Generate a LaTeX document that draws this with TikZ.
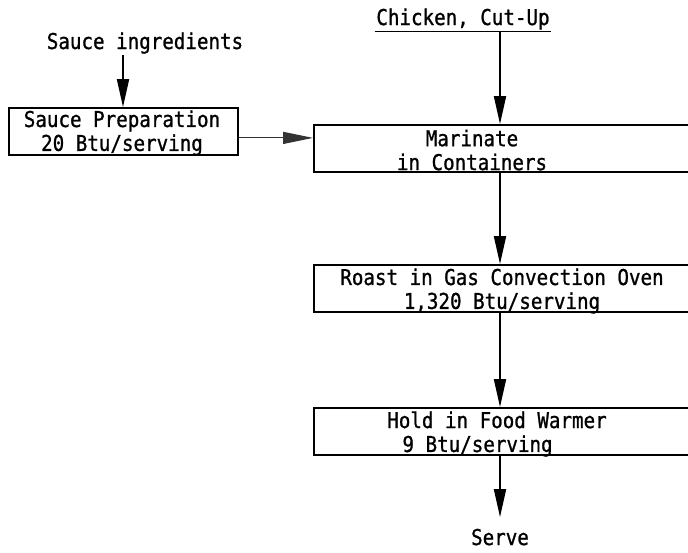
\documentclass[tikz,border=0pt]{standalone}
\usepackage{fontspec}
\setmonofont{DejaVu Sans Mono}[FakeStretch=0.88, FakeBold=1]
\usetikzlibrary{arrows.meta,positioning}

\begin{document}
\begin{tikzpicture}[x=0.025cm, y=-0.025cm]
	\tikzstyle{stage}=[rectangle, draw=black, line width=1.3pt, minimum height=1.175cm, inner sep=0pt]
	\tikzstyle{txt}=[font=\ttfamily\fontsize{15.5}{17}\selectfont, align=center, inner sep=1pt]
	\tikzstyle{flow}=[line width=1.3pt, -{Triangle[length=0.7cm, width=0.3cm]}]
	\tikzstyle{feed}=[line width=0.8pt, black!80, -{Triangle[length=0.75cm, width=0.3cm]}]
	\useasboundingbox (0,0) rectangle (688,552);
	% Sauce
	\node at (145,49) [txt, anchor=base] (ingredients) {Sauce ingredients};
	\coordinate (side) at (123,0);
	\node at (123.5,131.5) [stage, minimum width=5.725cm] (sauce) {};
	\node at (122,133) [txt] (sauce_text) {Sauce Preparation\\20 Btu/serving};
	% Main line
	\coordinate (main) at (500,0);
	\node at (463,25) [txt, anchor=base] (chicken) {Chicken, Cut-Up};
	\draw [line width=1pt] (chicken.south west) -- (chicken.south east);
	\node at (520,148.5) [stage, minimum width=10.3cm] (marinate) {};
	\node at (472,150) [txt] (marinate_text) {Marinate\\in Containers};
	\node at (520,288.5) [stage, minimum width=10.3cm] (roast) {};
	\node at (502,291) [txt] (roast_text) {Roast in Gas Convection Oven\\1,320 Btu/serving};
	\node at (520,431.5) [stage, minimum width=10.3cm] (hold) {};
	\node at (497,434) [txt, align=left] (hold_text) {Hold in Food Warmer\\\hspace*{0.38cm}9 Btu/serving};
	\node at (500,545) [txt, anchor=base] (serve) {Serve};
	%---------------------%
	% Inputs
	\draw [flow] (side |- ingredients.south) -- (side |- sauce.north);
	\draw [feed] ([yshift=-0.16cm]sauce.east) -- ([yshift=-0.16cm]sauce.east -| marinate.west);
	\draw [flow] (main |- chicken.south) -- (main |- marinate.north);
	% Stages
	\draw [flow] (main |- marinate.south) -- (main |- roast.north);
	\draw [flow] (main |- roast.south) -- (main |- hold.north);
	\draw [flow, shorten >=0.25cm] (main |- hold.south) -- (serve.north);
\end{tikzpicture}
\end{document}
